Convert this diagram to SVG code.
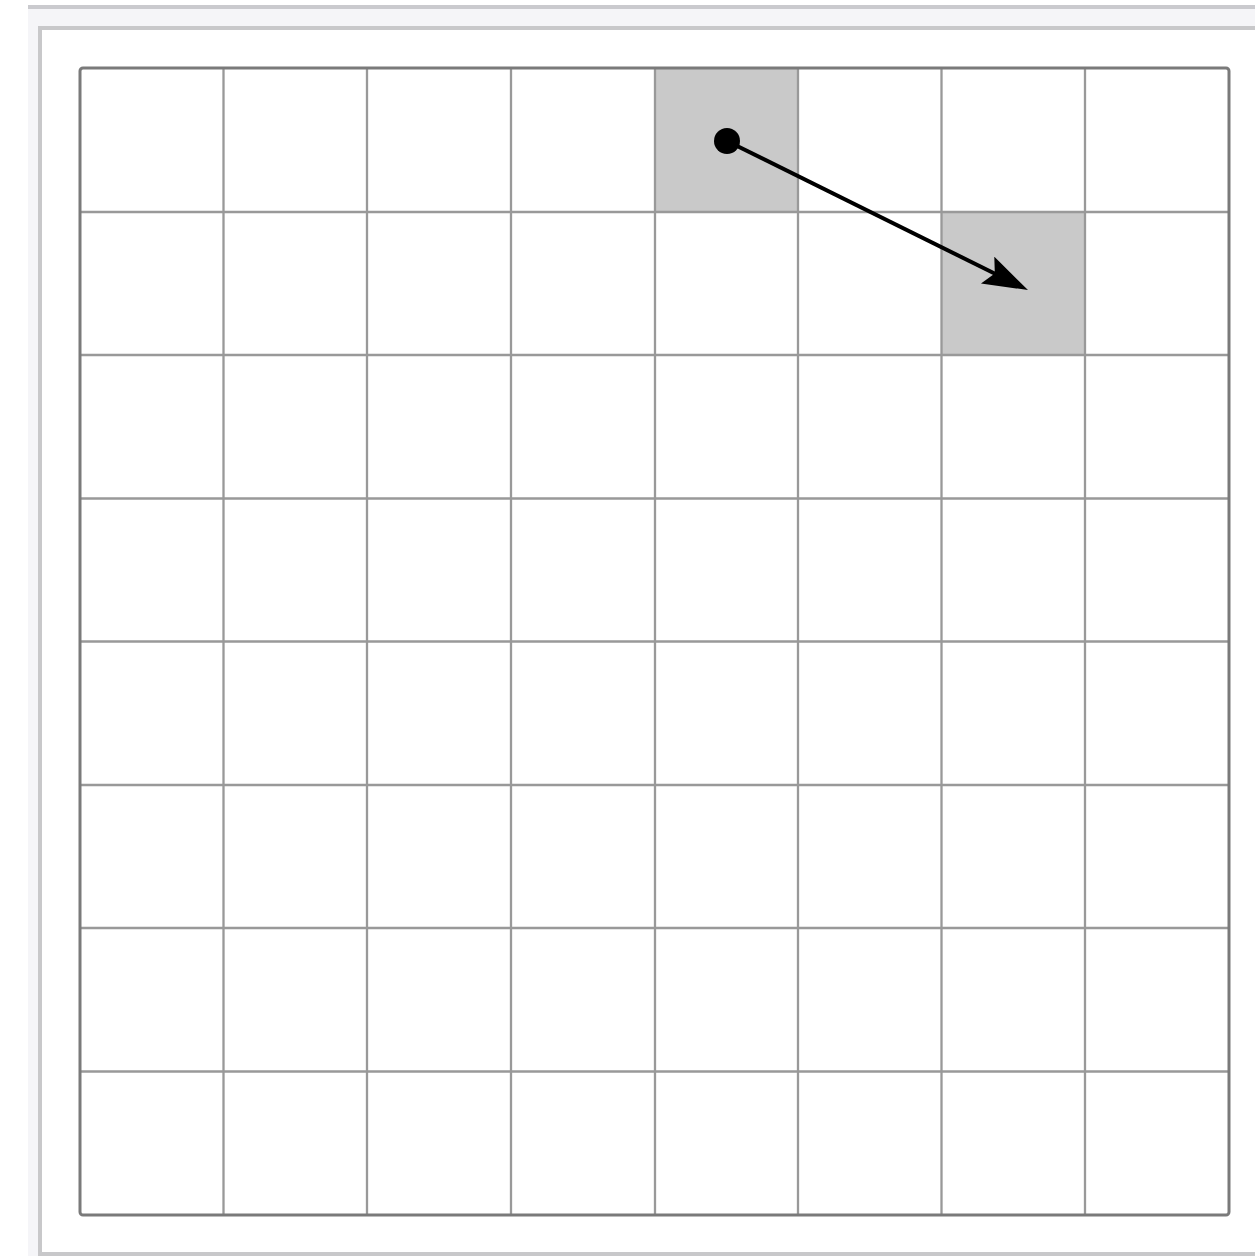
<svg xmlns="http://www.w3.org/2000/svg" width="1255" height="1256" viewBox="0 0 1255 1256">
<style>
.grid{stroke:#999999;stroke-width:2.3;fill:none}
.cell-hl{fill:#c9c9c9}
.conn{stroke:#000;stroke-width:4;fill:none}
</style>
<defs>
<marker id="arrow" markerUnits="userSpaceOnUse" markerWidth="50" markerHeight="36" refX="10" refY="15" orient="auto">
<path d="M0,0 L45,15 L0,30 L8,15 Z" fill="#000"/>
</marker>
</defs>
<rect x="0" y="0" width="1255" height="1256" fill="#ffffff"/>
<rect x="28" y="9" width="1227" height="1247" fill="#f5f5f8"/>
<rect x="28" y="5" width="1227" height="4" fill="#cacace"/>
<rect x="40" y="28" width="1220" height="1226" fill="#ffffff" stroke="#c8c8ca" stroke-width="4"/>
<g id="cells">
<rect id="cell-r0c4" class="cell-hl" x="655" y="68" width="143" height="144"/>
<rect id="cell-r1c6" class="cell-hl" x="941" y="212" width="144" height="143"/>
</g>
<g id="grid">
<path class="grid" d="M223.5,68V1215M367,68V1215M511,68V1215M655,68V1215M798,68V1215M941.5,68V1215M1085,68V1215M80,212H1229M80,355H1229M80,498.5H1229M80,641.5H1229M80,785H1229M80,928H1229M80,1071.5H1229"/>
<rect x="80" y="68" width="1149" height="1147" rx="3" fill="none" stroke="#7a7a7a" stroke-width="3"/>
</g>
<g id="connectors">
<circle cx="727" cy="141" r="13" fill="#000"/>
<line class="conn" x1="727" y1="141" x2="996.6" y2="274.5" marker-end="url(#arrow)"/>
</g>
</svg>
